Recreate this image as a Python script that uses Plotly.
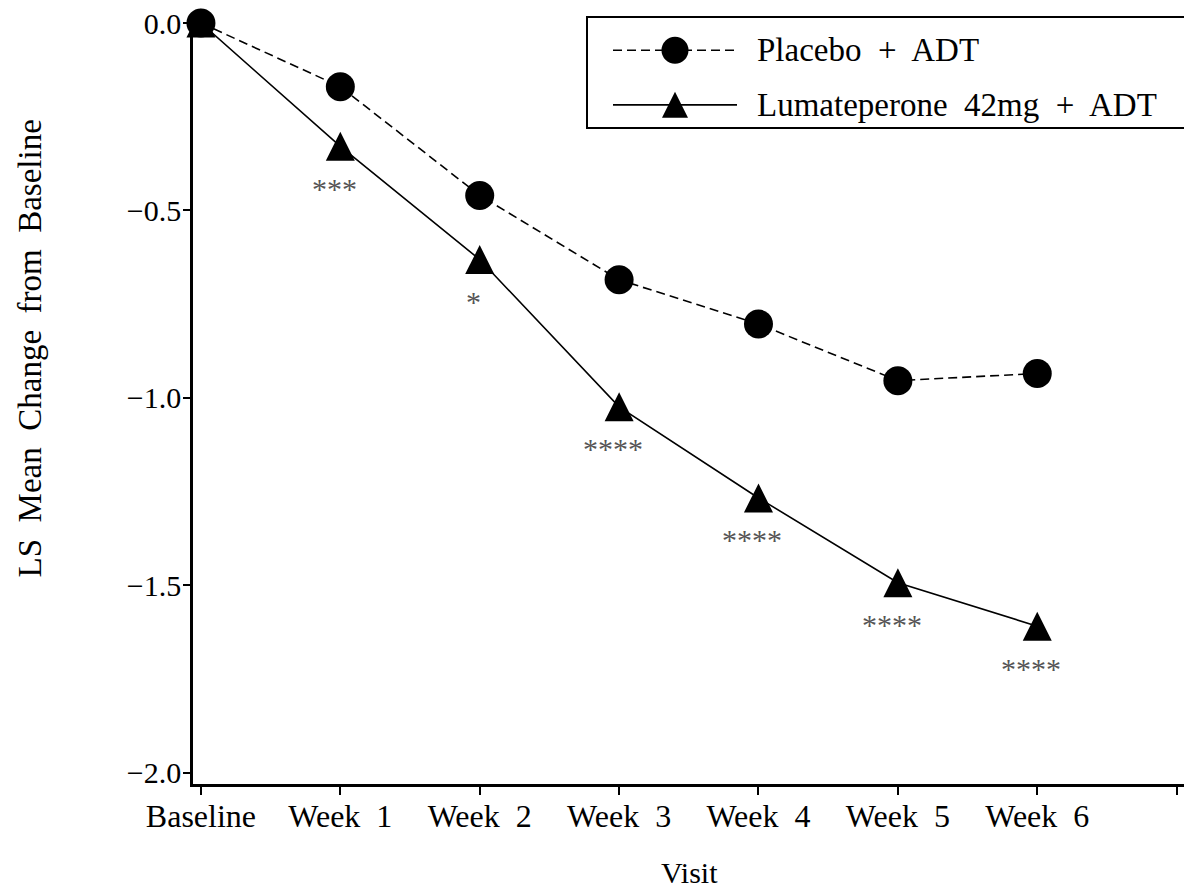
import plotly.graph_objects as go

# ---- data ----
visits = ["Baseline", "Week 1", "Week 2", "Week 3", "Week 4", "Week 5", "Week 6"]
visit_idx = [0, 1, 2, 3, 4, 5, 6]
placebo = [0.0, -0.17, -0.46, -0.685, -0.803, -0.954, -0.935]
lumateperone = [0.0, -0.329, -0.631, -1.024, -1.267, -1.493, -1.609]
significance = ["", "***", "*", "****", "****", "****", "****"]
y_ticks = [0.0, -0.5, -1.0, -1.5, -2.0]
y_tick_labels = ["0.0", "\u22120.5", "\u22121.0", "\u22121.5", "\u22122.0"]
series_names = ["Placebo\u00a0 +\u00a0 ADT", "Lumateperone\u00a0 42mg\u00a0 +\u00a0 ADT"]

FONT = "Liberation Serif, Times New Roman, serif"
TRI_SIZE = 29

fig = go.Figure()

# Lumateperone (solid, triangles)
fig.add_trace(go.Scatter(
    x=visit_idx, y=lumateperone, mode="lines+markers",
    line=dict(color="black", width=1.6),
    marker=dict(symbol="arrow-down", angle=180, standoff=TRI_SIZE / 2,
                size=TRI_SIZE, color="black", line=dict(width=0)),
    cliponaxis=False, showlegend=False,
))
# Placebo (dashed, circles)
fig.add_trace(go.Scatter(
    x=visit_idx, y=placebo, mode="lines+markers",
    line=dict(color="black", width=1.6, dash="9px,5px"),
    marker=dict(symbol="circle", size=29, color="black", line=dict(width=0)),
    cliponaxis=False, showlegend=False,
))

# significance asterisks
for xi, yi, s in zip(visit_idx, lumateperone, significance):
    if s:
        fig.add_annotation(x=xi, y=yi, text=s, showarrow=False,
                           xshift=-6, yshift=-42,
                           font=dict(family=FONT, size=30, color="#555555"))

# ---- manual legend on a pixel-space overlay axis ----
leg_x_line = [613, 737]
leg_x_mark = [675]
leg_rows = [50, 104]
fig.add_trace(go.Scatter(
    x=leg_x_line, y=[leg_rows[0]] * 2, mode="lines", xaxis="x2", yaxis="y2",
    line=dict(color="black", width=1.6, dash="9px,5px"), cliponaxis=False, showlegend=False))
fig.add_trace(go.Scatter(
    x=leg_x_mark, y=[leg_rows[0]], mode="markers", xaxis="x2", yaxis="y2",
    marker=dict(symbol="circle", size=27, color="black"), cliponaxis=False, showlegend=False))
fig.add_trace(go.Scatter(
    x=leg_x_line, y=[leg_rows[1]] * 2, mode="lines", xaxis="x2", yaxis="y2",
    line=dict(color="black", width=1.6), cliponaxis=False, showlegend=False))
fig.add_trace(go.Scatter(
    x=leg_x_mark, y=[leg_rows[1]], mode="markers", xaxis="x2", yaxis="y2",
    marker=dict(symbol="arrow-down", angle=180, standoff=13, size=26, color="black"),
    cliponaxis=False, showlegend=False))
for row, name in zip(leg_rows, series_names):
    fig.add_annotation(x=755, y=row, xref="x2", yref="y2", text=name, showarrow=False,
                       xanchor="left", yanchor="middle",
                       font=dict(family=FONT, size=33, color="black"))

fig.add_shape(type="rect", xref="paper", yref="paper",
              x0=(587 - 193) / 992, x1=(1185 - 193) / 992,
              y0=(776 - 127) / 753, y1=(776 - 17) / 753,
              line=dict(color="black", width=2), fillcolor="rgba(0,0,0,0)")

# axis titles
fig.add_annotation(xref="paper", yref="paper", x=(30 - 193) / 992, y=(776 - 345) / 753,
                   text="LS\u00a0 Mean\u00a0 Change\u00a0 from\u00a0 Baseline", textangle=-90,
                   showarrow=False, xanchor="center", yanchor="middle",
                   font=dict(family=FONT, size=33, color="black"))
fig.add_annotation(xref="paper", yref="paper", x=0.5, y=(776 - 864) / 753,
                   text="Visit", showarrow=False, xanchor="center", yanchor="middle",
                   font=dict(family=FONT, size=30, color="black"))

# page body has an 8px margin: shrink the figure so the plot lands on the reference pixels
fig.update_layout(
    width=1184, height=886,
    margin=dict(l=185, r=7, t=15, b=110, autoexpand=False),
    paper_bgcolor="white", plot_bgcolor="white",
    showlegend=False,
    xaxis=dict(range=[-0.057, 7.06], tickvals=visit_idx + [7],
               ticktext=[v.replace(" ", "\u00a0 ") for v in visits] + [""],
               showgrid=False, zeroline=False, showline=True, linecolor="black", linewidth=2.5,
               ticks="outside", ticklen=8, tickwidth=2, tickcolor="black",
               ticklabelstandoff=-6, ticklabeloverflow="allow", automargin=False,
               tickfont=dict(family=FONT, size=32, color="black")),
    yaxis=dict(range=[-2.03, 0.0], tickvals=y_ticks, ticktext=y_tick_labels,
               showgrid=False, zeroline=False, showline=True, linecolor="black", linewidth=2.5,
               ticks="outside", ticklen=7, tickwidth=2, tickcolor="black",
               ticklabelstandoff=-4, ticklabeloverflow="allow", automargin=False,
               tickfont=dict(family=FONT, size=30, color="black")),
    xaxis2=dict(overlaying="x", anchor="y2", range=[193, 1185], visible=False),
    yaxis2=dict(overlaying="y", anchor="x2", range=[776, 23], visible=False),
)

fig.write_html("out.html")
